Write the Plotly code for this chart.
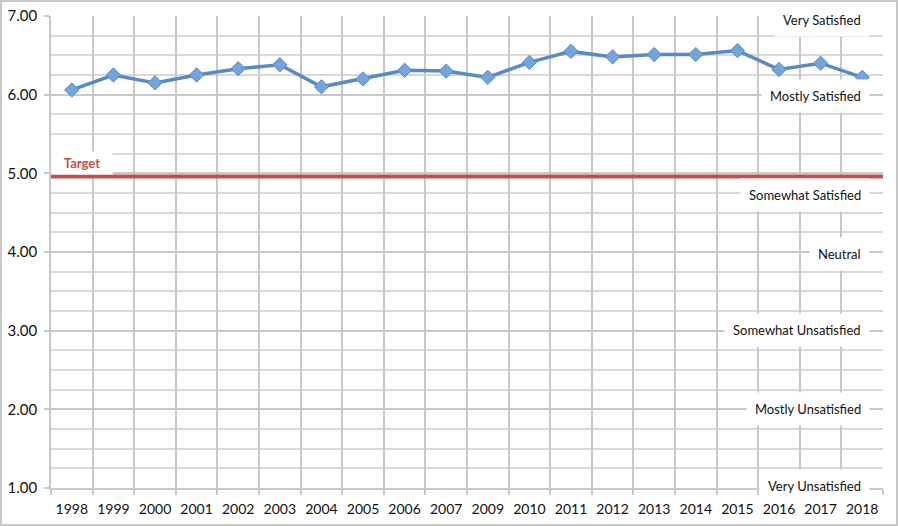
"""Customer satisfaction trend, 1998-2018, with target line."""

import plotly.graph_objects as go

years = ["1998", "1999", "2000", "2001", "2002", "2003", "2004", "2005", "2006",
         "2007", "2009", "2010", "2011", "2012", "2013", "2014", "2015", "2016",
         "2017", "2018"]
scores = [6.06, 6.25, 6.15, 6.25, 6.33, 6.38, 6.10, 6.20, 6.31, 6.30, 6.22,
          6.41, 6.55, 6.48, 6.51, 6.51, 6.56, 6.32, 6.40, 6.22]
target = 4.96

scale_labels = ["Very Satisfied", "Mostly Satisfied", "Somewhat Satisfied",
                "Neutral", "Somewhat Unsatisfied", "Mostly Unsatisfied",
                "Very Unsatisfied"]
scale_label_y = [6.95, 5.98, 4.73, 3.98, 3.01, 2.01, 1.03]

W, H = 898, 526
L, R, T, B = 51, 15, 16, 38
FONT = "Lato"
GRID = "#c8c8c8"

fig = go.Figure()

fig.add_trace(go.Scatter(
    x=years,
    y=scores,
    mode="lines+markers",
    line=dict(color="#5a8ac6", width=3.5),
    marker=dict(symbol="diamond", size=11, color="#74a4dc",
                line=dict(color="#5a8ac6", width=1)),
    showlegend=False,
))

fig.add_hline(y=target, line=dict(color="#c0504d", width=4), layer="above")

fig.add_annotation(
    text="<b>Target</b>", xref="paper", yref="y", x=0, y=5.13,
    xanchor="left", yanchor="middle", showarrow=False,
    width=54, height=16, align="center", borderpad=3,
    font=dict(family=FONT, size=13, color="#c0504d"),
    bgcolor="white",
)

pw, ph = W - L - R, H - T - B
for lab, yv in zip(scale_labels, scale_label_y):
    fig.add_annotation(
        text=lab, xref="paper", yref="y", x=(870 - L) / pw, y=yv,
        xanchor="right", yanchor="middle", showarrow=False,
        font=dict(family=FONT, size=13, color="#111111"),
        bgcolor="white", borderpad=8,
    )

# outer chart border
fig.add_shape(
    type="rect", xref="paper", yref="paper",
    x0=-(L - 1) / pw, x1=1 + (R - 1) / pw,
    y0=-(B - 1) / ph, y1=1 + (T - 1) / ph,
    line=dict(color="#c8c8c8", width=2), layer="below",
)

fig.update_layout(
    width=W, height=H,
    margin=dict(l=L, r=R, t=T, b=B, autoexpand=False),
    paper_bgcolor="white",
    plot_bgcolor="white",
    font=dict(family=FONT, size=13, color="#111111"),
    xaxis=dict(
        type="category",
        range=[-0.5, len(years) - 0.5],
        tickson="boundaries",
        tickangle=0,
        automargin=False,
        showgrid=True, gridcolor=GRID, gridwidth=1.5,
        ticks="outside", ticklen=5, tickcolor=GRID, tickwidth=1.5,
        ticklabelstandoff=7,
        showline=True, linecolor=GRID, linewidth=1.5,
        tickfont=dict(family=FONT, size=14, color="#111111"),
    ),
    yaxis=dict(
        range=[1, 7], dtick=1, tickformat=".2f",
        automargin=False,
        showgrid=True, gridcolor=GRID, gridwidth=1.5,
        minor=dict(dtick=0.25, showgrid=True, gridcolor="#d9d9d9", gridwidth=1.5),
        ticks="outside", ticklen=5, tickcolor=GRID, tickwidth=1.5,
        ticklabelstandoff=4,
        showline=True, linecolor=GRID, linewidth=1.5,
        zeroline=False,
        tickfont=dict(family=FONT, size=15, color="#111111"),
    ),
)

fig.write_html("out.html", config={"displayModeBar": False},
               post_script="document.body.style.margin='0';")
